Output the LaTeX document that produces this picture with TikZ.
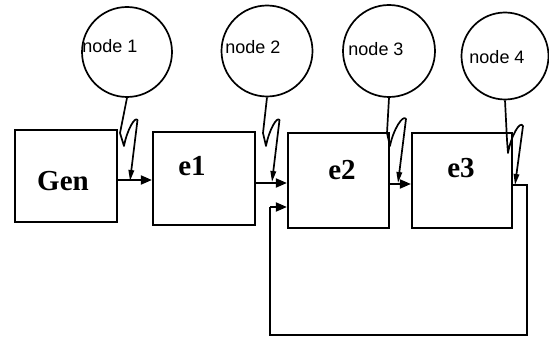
\documentclass[tikz,border=0pt]{standalone}
\usepackage{fontspec}
\setmainfont{Liberation Serif}
\newfontfamily\labelsans{Liberation Sans}
\usetikzlibrary{arrows.meta,calc}
\begin{document}
\begin{tikzpicture}[x=1pt,y=-1pt,
  box/.style={draw,line width=2.2pt,minimum width=#1,inner sep=0pt},
  boxlbl/.style={font=\bfseries\fontsize{29}{29}\selectfont,inner sep=0pt},
  bubble/.style={draw,circle,line width=1.7pt,minimum size=#1,inner sep=0pt},
  bubblelbl/.style={font=\labelsans\fontsize{18}{18}\selectfont,inner sep=0pt},
  flow/.style={line width=1.9pt,-{Triangle[length=11pt,width=9pt]}},
  bolt/.style={line width=1.7pt,line join=round,-{Triangle[length=11pt,width=5.5pt]}},
  loop/.style={line width=2.2pt}]
\useasboundingbox (0,0) rectangle (549,342);

% processing blocks
\node[box=102pt,minimum height=92pt] (gen) at (66,176) {};
\node[box=102pt,minimum height=93pt] (e1) at (204,178.5) {};
\node[box=101pt,minimum height=95pt] (e2) at (338.5,180.5) {};
\node[box=100pt,minimum height=95pt] (e3) at (462,180.5) {};
\node[boxlbl] (tgen) at (63,181) {Gen};
\node[boxlbl] (te1) at (192,166) {e1};
\node[boxlbl] (te2) at (342,170) {e2};
\node[boxlbl] (te3) at (461,168) {e3};

% monitoring nodes
\node[bubble=90pt] (n1) at (127,52) {};
\node[bubble=91pt] (n2) at (267,51) {};
\node[bubble=92pt] (n3) at (389,51) {};
\node[bubble=87pt] (n4) at (505,56) {};
\node[bubblelbl] (t1) at (110,46) {node 1};
\node[bubblelbl] (t2) at (253,47) {node 2};
\node[bubblelbl] (t3) at (376,49) {node 3};
\node[bubblelbl] (t4) at (497,57) {node 4};

% forward flow
\draw[flow] (gen.east |- 0,180) -- (e1.west |- 0,180);
\draw[flow] (e1.east |- 0,183) -- (e2.west |- 0,183);
\draw[flow] (e2.east |- 0,184) -- (e3.west |- 0,184);

% feedback from e3 back into e2
\coordinate (fbA) at (527,185);
\coordinate (fbB) at (527,335);
\coordinate (fbC) at (270,335);
\coordinate (fbD) at (270,207);
\draw[loop] (e3.east |- fbA) -- (fbA) -- (fbB) -- (fbC) -- (fbD);
\draw[flow] (fbD) -- (e2.west |- fbD);

% taps from each node onto the links
\coordinate (h1) at (130,181);
\coordinate (h2) at (272,182);
\coordinate (h3) at (398,183);
\coordinate (h4) at (515,185);
\draw[bolt] (n1.south) -- (120,133) -- (124,146)
  .. controls (127,130) and (135,116) .. (137.5,120) -- (h1);
\draw[bolt] (n2.south) -- (263,133) -- (266,146)
  .. controls (269,130) and (277,116) .. (279.5,120) -- (h2);
\draw[bolt] (n3.south) -- (387,133) -- (390,146)
  .. controls (393,130) and (403,114) .. (406,119) -- (h3);
\draw[bolt] (n4.south) -- (507,140) -- (508,153)
  .. controls (511,136) and (520,120) .. (523,126) -- (h4);
\end{tikzpicture}
\end{document}
